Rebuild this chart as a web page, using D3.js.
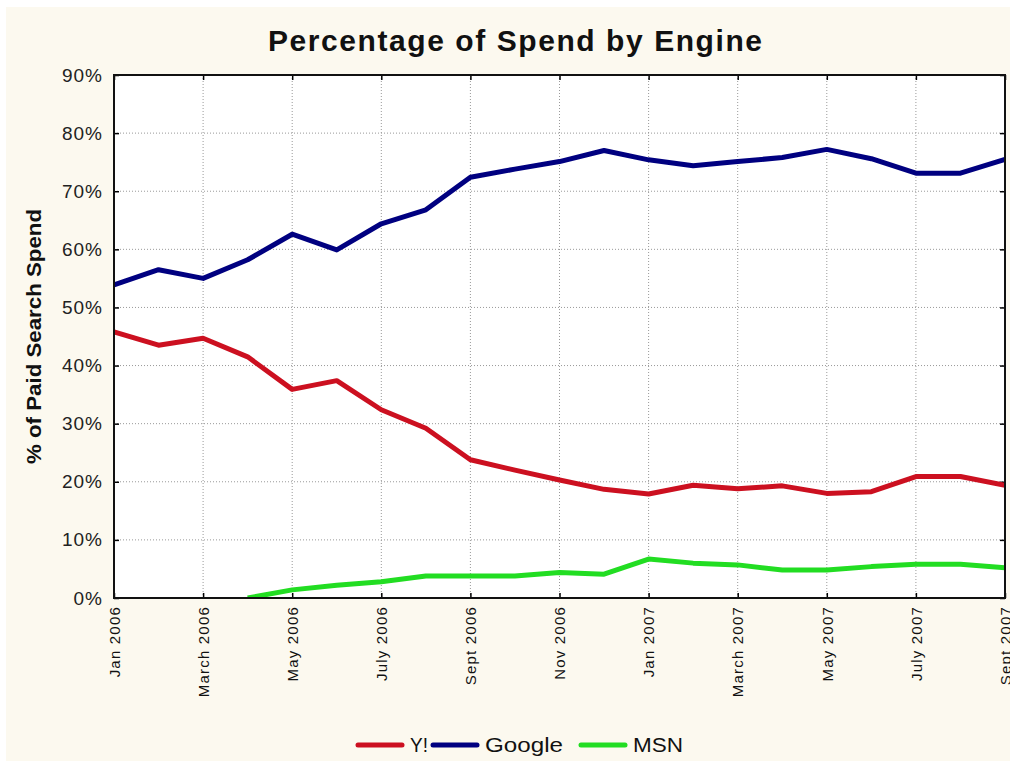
<!DOCTYPE html>
<html><head><meta charset="utf-8">
<script src="https://cdn.jsdelivr.net/npm/d3@7"></script>
<style>
html,body{margin:0;padding:0;background:#fff;}
svg{display:block;}
text{font-family:"Liberation Sans",Arial,sans-serif;}
</style></head>
<body>
<script>
const months = ["Jan 2006","Feb 2006","March 2006","Apr 2006","May 2006","June 2006","July 2006","Aug 2006","Sept 2006","Oct 2006","Nov 2006","Dec 2006","Jan 2007","Feb 2007","March 2007","Apr 2007","May 2007","June 2007","July 2007","Aug 2007","Sept 2007"];
const tickLabels = ["Jan 2006","March 2006","May 2006","July 2006","Sept 2006","Nov 2006","Jan 2007","March 2007","May 2007","July 2007","Sept 2007"];
const yahoo  = [45.8,43.5,44.7,41.5,35.9,37.4,32.4,29.2,23.8,22.0,20.3,18.7,17.9,19.4,18.8,19.3,18.0,18.3,20.9,20.9,19.4];
const google = [53.9,56.5,55.0,58.2,62.6,59.9,64.4,66.8,72.4,73.8,75.1,77.0,75.4,74.4,75.1,75.8,77.2,75.6,73.1,73.1,75.5];
const msn    = [null,null,null,0,1.4,2.2,2.8,3.8,3.8,3.8,4.4,4.1,6.7,6.0,5.7,4.8,4.8,5.4,5.8,5.8,5.2];
const yTicks = [0,10,20,30,40,50,60,70,80,90];
const seriesNames = ["Y!","Google","MSN"];
const seriesColors = ["#cc1020","#000080","#22dd22"];

const W=1010,H=763;
const m={left:114,right:5,top:75,bottom:165};
const svg=d3.select("body").append("svg").attr("width",W).attr("height",H);
svg.append("rect").attr("x",6).attr("y",7).attr("width",W-6).attr("height",H-9).attr("fill","#fcf9ef");

const x=d3.scalePoint().domain(months).range([m.left,W-m.right]);
const y=d3.scaleLinear().domain([0,90]).range([H-m.bottom,m.top]);
const pw=W-m.right-m.left, ph=H-m.bottom-m.top;

svg.append("rect").attr("x",m.left).attr("y",m.top).attr("width",pw).attr("height",ph).attr("fill","#fff");

// grid
const g=svg.append("g");
g.selectAll(".hg").data(yTicks.slice(1,-1)).join("line")
 .attr("x1",m.left).attr("x2",W-m.right).attr("y1",d=>y(d)).attr("y2",d=>y(d))
 .attr("stroke","#999").attr("stroke-width",1).attr("stroke-dasharray","1,2");
g.selectAll(".vg").data(tickLabels.slice(1,-1)).join("line")
 .attr("y1",m.top).attr("y2",H-m.bottom).attr("x1",d=>x(d)).attr("x2",d=>x(d))
 .attr("stroke","#999").attr("stroke-width",1).attr("stroke-dasharray","1,2");

// axes
const yAxis=d3.axisLeft(y).tickValues(yTicks).tickFormat(d=>d+"%").tickSize(-5).tickPadding(11);
const ya=svg.append("g").attr("transform",`translate(${m.left},0)`).call(yAxis);
ya.select(".domain").remove();
ya.selectAll("line").attr("stroke","#000").attr("stroke-width",1.5);
ya.selectAll("text").attr("font-size",19).attr("fill","#222").attr("letter-spacing","1px");

const yAxisR=d3.axisRight(y).tickValues(yTicks).tickFormat("").tickSize(-5);
const yr=svg.append("g").attr("transform",`translate(${W-m.right},0)`).call(yAxisR);
yr.select(".domain").remove();
yr.selectAll("line").attr("stroke","#000").attr("stroke-width",1.5);

const xAxis=d3.axisBottom(x).tickValues(tickLabels).tickSize(-5).tickPadding(8);
const xa=svg.append("g").attr("transform",`translate(0,${H-m.bottom})`).call(xAxis);
xa.select(".domain").remove();
xa.selectAll("line").attr("stroke","#000").attr("stroke-width",1.5);
xa.selectAll("text").attr("font-size",15).attr("fill","#111").attr("letter-spacing","1.2px")
  .attr("text-anchor","end").attr("transform","rotate(-90)").attr("x",-8).attr("y",0).attr("dy","0.35em");

const xAxisT=d3.axisTop(x).tickValues(tickLabels).tickFormat("").tickSize(-5);
const xt=svg.append("g").attr("transform",`translate(0,${m.top})`).call(xAxisT);
xt.select(".domain").remove();
xt.selectAll("line").attr("stroke","#000").attr("stroke-width",1.5);

// lines
const data=[yahoo,google,msn];
const line=d3.line().defined(d=>d.v!==null).x(d=>x(d.m)).y(d=>y(d.v));
svg.append("clipPath").attr("id","c").append("rect").attr("x",m.left).attr("y",m.top).attr("width",pw).attr("height",ph+1);
data.forEach((arr,i)=>{
  svg.append("path").datum(arr.map((v,j)=>({m:months[j],v})))
   .attr("d",line).attr("fill","none").attr("stroke",seriesColors[i]).attr("stroke-width",5)
   .attr("stroke-linejoin","round").attr("clip-path","url(#c)");
});

// frame
svg.append("rect").attr("x",m.left).attr("y",m.top).attr("width",pw).attr("height",ph)
 .attr("fill","none").attr("stroke","#111").attr("stroke-width",2);

// title
svg.append("text").attr("x",515).attr("y",51).attr("text-anchor","middle")
 .attr("font-size",30).attr("font-weight","bold").attr("fill","#111")
 .attr("textLength",494).attr("lengthAdjust","spacing").text("Percentage of Spend by Engine");

svg.append("text").attr("transform",`translate(41,${m.top+ph/2}) rotate(-90)`).attr("text-anchor","middle")
 .attr("font-size",20).attr("font-weight","bold").attr("fill","#111")
 .attr("textLength",255).attr("lengthAdjust","spacingAndGlyphs").text("% of Paid Search Spend");

// legend
const legX=[358,433,581];
const legTextLen=[18,78,50];
const lg=svg.append("g");
seriesNames.forEach((n,i)=>{
  lg.append("line").attr("x1",legX[i]).attr("x2",legX[i]+44).attr("y1",745).attr("y2",745)
   .attr("stroke",seriesColors[i]).attr("stroke-width",5).attr("stroke-linecap","round");
  lg.append("text").attr("x",legX[i]+52).attr("y",752).attr("font-size",20).attr("fill","#111")
   .attr("textLength",legTextLen[i]).attr("lengthAdjust","spacingAndGlyphs").text(n);
});
</script>
</body></html>
